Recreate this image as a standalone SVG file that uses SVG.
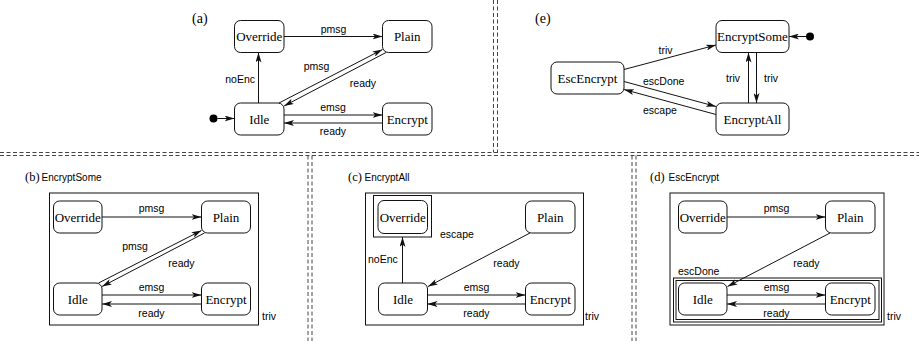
<svg xmlns="http://www.w3.org/2000/svg" width="919" height="341" viewBox="0 0 919 341">
<defs>
<marker id="ah" viewBox="0 0 10 6" refX="10" refY="3" markerWidth="10" markerHeight="6" markerUnits="userSpaceOnUse" orient="auto"><path d="M0,0 L10,3 L0,6 L2.5,3 z" fill="#111"/></marker>
</defs>
<style>
.st rect{fill:#fff;stroke:#111;stroke-width:1}
.st text{font-family:"Liberation Serif","Times New Roman",serif;font-size:13px;text-anchor:middle;fill:#000}
.c{fill:none;stroke:#111;stroke-width:1;marker-end:url(#ah)}
.lb{font-family:"Liberation Sans",Arial,sans-serif;font-size:10.5px;fill:#000}
.m{text-anchor:middle}
.e{text-anchor:end}
.hd{font-family:"Liberation Serif","Times New Roman",serif;font-size:12.5px;fill:#000}
.hs{font-family:"Liberation Sans",Arial,sans-serif;font-size:10px;fill:#000}
.frame{fill:none;stroke:#111;stroke-width:1}
.sep{fill:none;stroke:#444;stroke-width:1;stroke-dasharray:4 2.5}
</style>
<rect width="919" height="341" fill="#fff"/>

<g id="separators">
<path class="sep" d="M0,152.5 H919 M0,155.5 H919"/>
<path class="sep" d="M493.5,0 V152.5 M497.5,0 V152.5"/>
<path class="sep" d="M308,155.5 V341 M312,155.5 V341"/>
<path class="sep" d="M632,155.5 V341 M636,155.5 V341"/>
</g>

<!-- Panel (a) -->
<g id="panel-a">
<text class="hd" x="192" y="23" style="font-size:14px">(a)</text>
<g id="a-override" class="st"><rect x="234.5" y="20.5" width="49.5" height="32" rx="6"/><text x="259.25" y="41">Override</text></g>
<g id="a-plain" class="st"><rect x="382.5" y="20.5" width="49.5" height="32" rx="6"/><text x="407.25" y="41">Plain</text></g>
<g id="a-idle" class="st"><rect x="234.5" y="103" width="49.5" height="32" rx="6"/><text x="259.25" y="123.5">Idle</text></g>
<g id="a-encrypt" class="st"><rect x="382.5" y="103" width="49.5" height="32" rx="6"/><text x="407.25" y="123.5">Encrypt</text></g>
<g id="a-init"><circle cx="213.5" cy="118.5" r="4" fill="#000"/></g>
<g id="a-connectors">
<path class="c" d="M217.5,118.5 H234.5"/>
<path class="c" d="M284,36.5 H382.5"/>
<path class="c" d="M258.5,103 V52.5"/>
<path class="c" d="M279,103 L382.5,49.5"/>
<path class="c" d="M386,52.5 L284,106"/>
<path class="c" d="M284,115 H382.5"/>
<path class="c" d="M382.5,123 H284"/>
<text class="lb m" x="333.5" y="33">pmsg</text>
<text class="lb e" x="255" y="83">noEnc</text>
<text class="lb m" x="316.5" y="70">pmsg</text>
<text class="lb m" x="363" y="86.5">ready</text>
<text class="lb m" x="333" y="111">emsg</text>
<text class="lb m" x="333" y="135">ready</text>
</g>
</g>

<!-- Panel (e) -->
<g id="panel-e">
<text class="hd" x="535" y="23" style="font-size:14px">(e)</text>
<g id="e-escencrypt" class="st"><rect x="551" y="62" width="73" height="32" rx="6"/><text x="587.5" y="82.5">EscEncrypt</text></g>
<g id="e-encryptsome" class="st"><rect x="716" y="20.5" width="73" height="32" rx="6"/><text x="752.5" y="41">EncryptSome</text></g>
<g id="e-encryptall" class="st"><rect x="716" y="103" width="73" height="32" rx="6"/><text x="752.5" y="123.5">EncryptAll</text></g>
<g id="e-init"><circle cx="810" cy="36.5" r="4" fill="#000"/></g>
<g id="e-connectors">
<path class="c" d="M806,36.5 H789"/>
<path class="c" d="M624,69.5 L716,45"/>
<path class="c" d="M624,81.5 L716,106.5"/>
<path class="c" d="M716,114.5 L624,89.5"/>
<path class="c" d="M748.5,103 V52.5"/>
<path class="c" d="M756.5,52.5 V103"/>
<text class="lb m" x="665.5" y="53.5">triv</text>
<text class="lb" x="643" y="85">escDone</text>
<text class="lb" x="643" y="113.5">escape</text>
<text class="lb e" x="740" y="82">triv</text>
<text class="lb" x="764" y="82">triv</text>
</g>
</g>

<!-- Panel (b) -->
<g id="panel-b">
<text class="hd" x="25" y="181">(b)</text>
<text class="hs" x="41.5" y="181">EncryptSome</text>
<rect class="frame" x="49.5" y="193" width="209" height="132"/>
<g id="b-override" class="st"><rect x="53.5" y="201" width="48.5" height="32" rx="6"/><text x="77.75" y="221.5">Override</text></g>
<g id="b-plain" class="st"><rect x="201.5" y="201" width="49" height="32" rx="6"/><text x="226" y="221.5">Plain</text></g>
<g id="b-idle" class="st"><rect x="53.5" y="283" width="48.5" height="32" rx="6"/><text x="77.75" y="303.5">Idle</text></g>
<g id="b-encrypt" class="st"><rect x="201.5" y="283" width="49" height="32" rx="6"/><text x="226" y="303.5">Encrypt</text></g>
<g id="b-connectors">
<path class="c" d="M102,217 H201.5"/>
<path class="c" d="M98.5,283 L201.5,230.5"/>
<path class="c" d="M204.5,233 L102,286.5"/>
<path class="c" d="M102,295 H201.5"/>
<path class="c" d="M201.5,304 H102"/>
<text class="lb m" x="151.5" y="212">pmsg</text>
<text class="lb m" x="135" y="250">pmsg</text>
<text class="lb m" x="181.5" y="267">ready</text>
<text class="lb m" x="151.5" y="291">emsg</text>
<text class="lb m" x="151.5" y="317">ready</text>
<text class="lb" x="262" y="320">triv</text>
</g>
</g>

<!-- Panel (c) -->
<g id="panel-c">
<text class="hd" x="348" y="181">(c)</text>
<text class="hs" x="364.5" y="181">EncryptAll</text>
<rect class="frame" x="365.5" y="193" width="218" height="132"/>
<rect class="frame" x="373.5" y="195.5" width="58" height="41.5"/>
<g id="c-override" class="st"><rect x="378" y="200.5" width="49.5" height="33" rx="6"/><text x="402.75" y="221.5">Override</text></g>
<g id="c-plain" class="st"><rect x="525.5" y="201" width="49.5" height="32" rx="6"/><text x="550.25" y="221.5">Plain</text></g>
<g id="c-idle" class="st"><rect x="378.5" y="283" width="49" height="32" rx="6"/><text x="403" y="303.5">Idle</text></g>
<g id="c-encrypt" class="st"><rect x="525.5" y="283" width="49.5" height="32" rx="6"/><text x="550.25" y="303.5">Encrypt</text></g>
<g id="c-connectors">
<path class="c" d="M402.5,283 V237"/>
<path class="c" d="M530,233 L428,286.5"/>
<path class="c" d="M427.5,295 H525.5"/>
<path class="c" d="M525.5,304 H427.5"/>
<text class="lb" x="440" y="238">escape</text>
<text class="lb" x="368" y="263">noEnc</text>
<text class="lb m" x="506.5" y="267">ready</text>
<text class="lb m" x="476.5" y="291">emsg</text>
<text class="lb m" x="476.5" y="317">ready</text>
<text class="lb" x="585" y="320">triv</text>
</g>
</g>

<!-- Panel (d) -->
<g id="panel-d">
<text class="hd" x="650" y="181">(d)</text>
<text class="hs" x="668.5" y="181">EscEncrypt</text>
<rect class="frame" x="670" y="193" width="214" height="132"/>
<rect class="frame" x="673.5" y="278" width="208" height="44"/>
<rect class="frame" x="676" y="280.5" width="203" height="39"/>
<g id="d-override" class="st"><rect x="678.5" y="201" width="48.5" height="32" rx="6"/><text x="702.75" y="221.5">Override</text></g>
<g id="d-plain" class="st"><rect x="825.5" y="201" width="49.5" height="32" rx="6"/><text x="850.25" y="221.5">Plain</text></g>
<g id="d-idle" class="st"><rect x="678.5" y="283" width="48.5" height="32" rx="6"/><text x="702.75" y="303.5">Idle</text></g>
<g id="d-encrypt" class="st"><rect x="825.5" y="283" width="49.5" height="32" rx="6"/><text x="850.25" y="303.5">Encrypt</text></g>
<g id="d-connectors">
<path class="c" d="M727,217 H825.5"/>
<path class="c" d="M830,233 L727.5,286.5"/>
<path class="c" d="M727,295 H825.5"/>
<path class="c" d="M825.5,304 H727"/>
<text class="lb m" x="776.5" y="212">pmsg</text>
<text class="lb m" x="806.5" y="267">ready</text>
<text class="lb" x="678" y="275">escDone</text>
<text class="lb m" x="776.5" y="291">emsg</text>
<text class="lb m" x="776.5" y="317">ready</text>
<text class="lb" x="887" y="320">triv</text>
</g>
</g>
</svg>
